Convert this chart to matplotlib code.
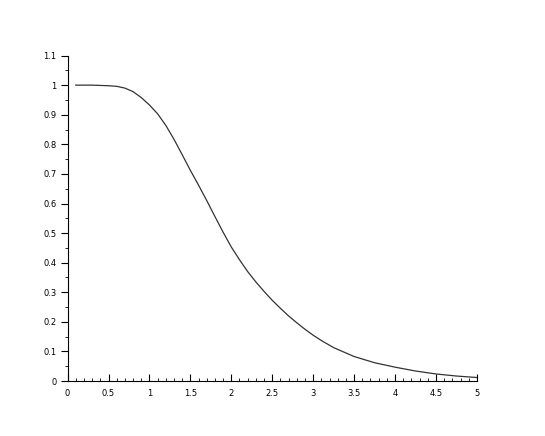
import numpy as np
import matplotlib
matplotlib.use("Agg")
import matplotlib.pyplot as plt
from matplotlib.ticker import MultipleLocator, FormatStrFormatter

# values
x = [0.1, 0.3, 0.5, 0.6, 0.7, 0.8, 0.9, 1.0, 1.1, 1.2, 1.3, 1.4, 1.5, 1.6,
     1.7, 1.8, 1.9, 2.0, 2.1, 2.2, 2.3, 2.4, 2.5, 2.6, 2.7, 2.8, 2.9, 3.0,
     3.1, 3.25, 3.5, 3.75, 4.0, 4.25, 4.5, 4.75, 5.0]
y = [1.0, 1.0, 0.998, 0.996, 0.99, 0.978, 0.958, 0.933, 0.903, 0.864, 0.817,
     0.765, 0.712, 0.662, 0.61, 0.556, 0.503, 0.453, 0.41, 0.37, 0.335,
     0.303, 0.273, 0.246, 0.22, 0.197, 0.175, 0.155, 0.137, 0.113, 0.083,
     0.062, 0.047, 0.034, 0.024, 0.017, 0.012]

fig = plt.figure(figsize=(5.45, 4.36), dpi=100)
ax = fig.add_axes([0.124, 0.126, 0.751, 0.7466])

ax.plot(x, y, color="#333333", lw=0.9)

ax.set_xlim(0, 5)
ax.set_ylim(0, 1.1)
ax.spines["top"].set_visible(False)
ax.spines["right"].set_visible(False)

ax.xaxis.set_major_locator(MultipleLocator(0.5))
ax.xaxis.set_minor_locator(MultipleLocator(0.1))
ax.yaxis.set_major_locator(MultipleLocator(0.1))
ax.yaxis.set_minor_locator(MultipleLocator(0.05))
ax.xaxis.set_major_formatter(FormatStrFormatter("%g"))
ax.yaxis.set_major_formatter(FormatStrFormatter("%g"))

ax.tick_params(axis="x", which="both", direction="in", labelsize=6, pad=6)
ax.tick_params(axis="x", which="major", length=5)
ax.tick_params(axis="x", which="minor", length=2.5)
ax.tick_params(axis="y", which="both", direction="out", labelsize=6, pad=3)
ax.tick_params(axis="y", which="major", length=5)
ax.tick_params(axis="y", which="minor", length=2.5)

fig.savefig("out.png", dpi=100)
